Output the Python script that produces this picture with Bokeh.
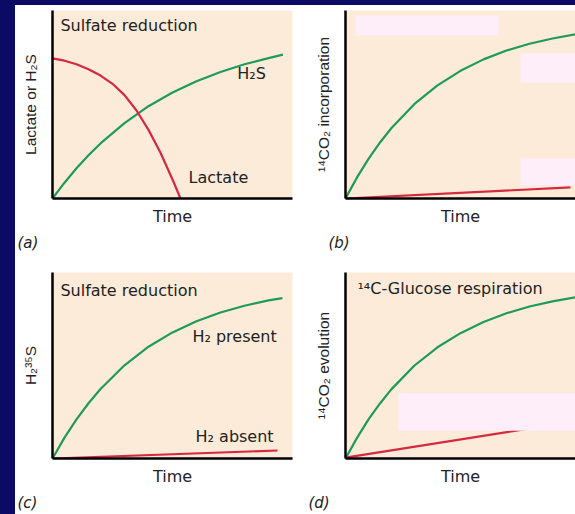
from bokeh.plotting import figure
from bokeh.models import Range1d, Label, FixedTicker, Spacer, Title
from bokeh.layouts import row, column
from bokeh.embed import file_html
from bokeh.resources import INLINE

# ---------------- data (time and response in arbitrary units, 0-100) ----------------
# (a) Sulfate reduction
a_h2s_t = [0, 5, 10, 15, 20, 30, 40, 50, 60, 70, 80, 90, 96]
a_h2s_y = [0, 8.4, 16.1, 23.0, 29.3, 40.1, 49.1, 56.4, 62.4, 67.3, 71.4, 74.7, 76.5]
a_lac_t = [0, 5, 10, 15, 20, 25, 30, 35, 40, 45, 50, 52, 53.3]
a_lac_y = [74.5, 73.3, 71.4, 68.8, 65.4, 61.0, 55.0, 46.8, 36.5, 24.3, 10.1, 4.1, 0]
# (b) 14CO2 incorporation
b_top_t = [0, 5, 10, 15, 20, 30, 40, 50, 60, 70, 80, 90, 100]
b_top_y = [0, 11.2, 21.1, 29.8, 37.5, 50.3, 60.2, 67.9, 74.0, 78.7, 82.3, 85.1, 87.3]
b_low_t = [0, 97.8]
b_low_y = [0, 5.9]
b_mask_l = [4.3, 76.1, 76.1]
b_mask_r = [66.5, 100, 100]
b_mask_b = [86.7, 61.7, 6.9]
b_mask_t = [97.3, 77.1, 21.3]
# (c) Sulfate reduction, H2 present / absent
c_pres_t = [0, 5, 10, 15, 20, 30, 40, 50, 60, 70, 80, 90, 95.8]
c_pres_y = [0, 11.2, 21.0, 29.7, 37.4, 50.1, 60.1, 67.8, 73.8, 78.5, 82.1, 85.0, 86.2]
c_abs_t = [0, 93.75]
c_abs_y = [0, 4.3]
# (d) 14C-Glucose respiration
d_top_t = [0, 5, 10, 15, 20, 30, 40, 50, 60, 70, 80, 90, 100]
d_top_y = [0, 11.1, 21.0, 29.6, 37.3, 50.0, 59.8, 67.4, 73.4, 78.1, 81.7, 84.5, 86.7]
d_low_t = [0, 100]
d_low_y = [0.5, 20.0]
d_mask_l = [23.0]
d_mask_r = [100]
d_mask_b = [14.9]
d_mask_t = [35.1]

NAVY = "#0b0b66"
PEACH = "#fcebd9"
PINK = "#fdeefa"
GREEN = "#1f9a5a"
RED = "#d6283f"
INK = "#222222"


def make_panel(width, height, bl, br, bt, bb, ylabel, tag, tag_offset):
    p = figure(width=width, height=height,
               x_range=Range1d(0, 100), y_range=Range1d(0, 100),
               output_backend="svg", toolbar_location=None, tools="",
               min_border_left=bl, min_border_right=br,
               min_border_top=bt, min_border_bottom=bb,
               background_fill_color=PEACH, border_fill_color="white",
               outline_line_color=None)
    p.title.visible = False
    p.xgrid.visible = False
    p.ygrid.visible = False
    for ax in (p.xaxis[0], p.yaxis[0]):
        ax.ticker = FixedTicker(ticks=[])
        ax.major_tick_out = 0
        ax.major_tick_in = 0
        ax.minor_tick_out = 0
        ax.minor_tick_in = 0
        ax.major_label_standoff = 0
        ax.axis_line_color = "black"
        ax.axis_line_width = 2.5
        ax.axis_label_text_font_style = "normal"
        ax.axis_label_text_color = INK
    p.xaxis[0].axis_label = "Time"
    p.xaxis[0].axis_label_text_font = "DejaVu Sans"
    p.xaxis[0].axis_label_text_font_size = "16px"
    p.xaxis[0].axis_label_standoff = 8
    p.yaxis[0].axis_label = ylabel
    p.yaxis[0].axis_label_text_font = "Liberation Sans"
    p.yaxis[0].axis_label_text_font_size = "15.5px"
    p.yaxis[0].axis_label_standoff = 14
    p.add_layout(Title(text=tag, align="left", offset=tag_offset, standoff=6,
                       text_font="DejaVu Sans", text_font_size="15px",
                       text_font_style="italic", text_color=INK), "below")
    return p


def add_text(p, x, y, text, size="16px"):
    p.add_layout(Label(x=x, y=y, text=text, text_font="DejaVu Sans",
                       text_font_size=size, text_color=INK,
                       text_baseline="middle", text_align="left"))


# top row: frame top at y=10, bottom at y=198
pa = make_panel(290, 257, 37, 13, 5, 64, "Lactate or H₂S", "(a)", -35)
pa.line(a_h2s_t, a_h2s_y, line_color=GREEN, line_width=2.2)
pa.line(a_lac_t, a_lac_y, line_color=RED, line_width=2.2)
add_text(pa, 3.3, 92, "Sulfate reduction")
add_text(pa, 77, 66.5, "H₂S")
add_text(pa, 56.7, 11.2, "Lactate")

pb = make_panel(270, 257, 40, 0, 5, 64, "¹⁴CO₂ incorporation", "(b)", -17)
pb.line(b_top_t, b_top_y, line_color=GREEN, line_width=2.2)
pb.line(b_low_t, b_low_y, line_color=RED, line_width=2.2)
pb.quad(left=b_mask_l, right=b_mask_r, bottom=b_mask_b, top=b_mask_t,
        fill_color=PINK, line_color=None)

# bottom row: frame top at y=272, bottom at y=460
pc = make_panel(290, 252, 37, 13, 10, 54, "H₂³⁵S", "(c)", -35)
pc.line(c_pres_t, c_pres_y, line_color=GREEN, line_width=2.2)
pc.line(c_abs_t, c_abs_y, line_color=RED, line_width=2.2)
add_text(pc, 3.3, 90.4, "Sulfate reduction")
add_text(pc, 58.3, 65.4, "H₂ present")
add_text(pc, 59.6, 11.7, "H₂ absent")

pd = make_panel(270, 252, 40, 0, 10, 54, "¹⁴CO₂ evolution", "(d)", -37)
pd.line(d_top_t, d_top_y, line_color=GREEN, line_width=2.2)
pd.line(d_low_t, d_low_y, line_color=RED, line_width=2.2)
pd.quad(left=d_mask_l, right=d_mask_r, bottom=d_mask_b, top=d_mask_t,
        fill_color=PINK, line_color=None)
add_text(pd, 5.2, 91.5, "¹⁴C-Glucose respiration")

navy_top = Spacer(width=575, height=5, styles={"background-color": NAVY})
navy_left = Spacer(width=15, height=509, styles={"background-color": NAVY})
layout = column(navy_top,
                row(navy_left, column(row(pa, pb), row(pc, pd))))

html = file_html(layout, INLINE, title="Sulfate reduction")
open("out.html", "w").write(html)
